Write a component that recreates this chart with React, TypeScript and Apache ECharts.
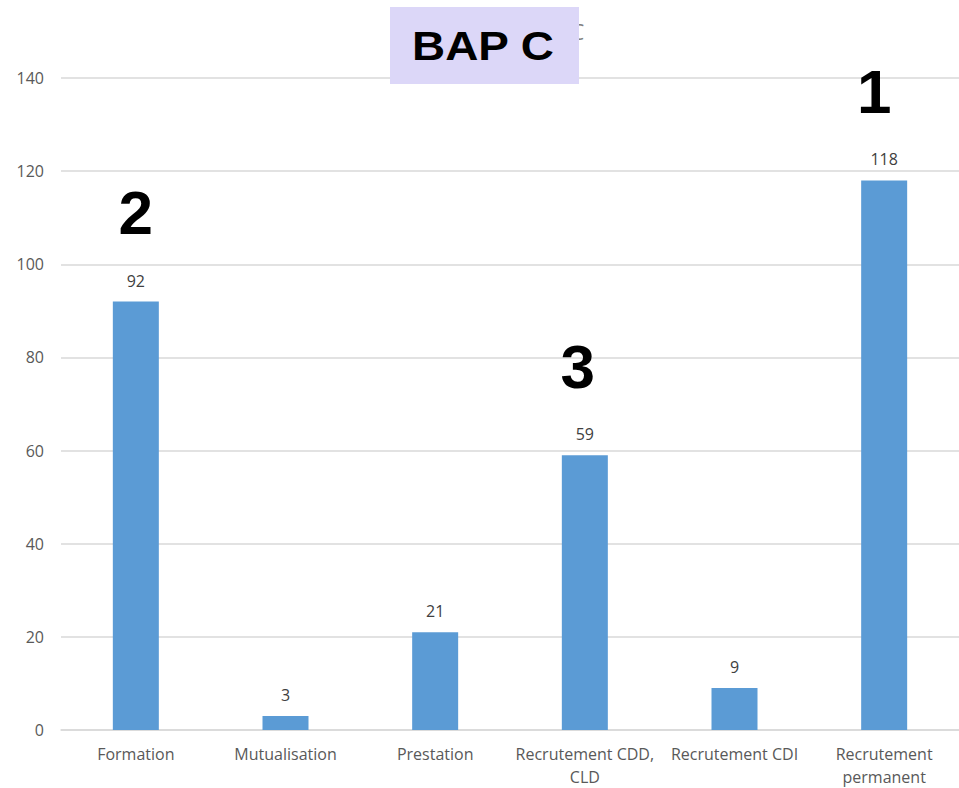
import React, { useEffect, useRef } from "react";
import * as echarts from "echarts";

// Category names, counts and podium ranks for the BAP C chart
const categories = [
  "Formation",
  "Mutualisation",
  "Prestation",
  "Recrutement CDD,\nCLD",
  "Recrutement CDI",
  "Recrutement\npermanent",
];
const counts = [92, 3, 21, 59, 9, 118];
const ranks: (number | null)[] = [2, null, null, 3, null, 1];
const yTicks = { min: 0, max: 140, interval: 20 };
const titleText = "BAP C";

const FONT = "'Open Sans', sans-serif";
const RANK_FONT = "'Liberation Sans', Arial, sans-serif";

// Big rank digits, nudged slightly left of the bar centre for 1 and 3
const rankStyle = (padRight: number) => ({
  color: "#000000",
  fontFamily: RANK_FONT,
  fontWeight: "bold",
  fontSize: 62,
  lineHeight: 116,
  padding: [0, padRight, 0, 0],
});

export default function App() {
  const ref = useRef<HTMLDivElement>(null);

  useEffect(() => {
    if (!ref.current) return;
    const chart = echarts.init(ref.current, null, { renderer: "svg" });
    chart.setOption({
      animation: false,
      backgroundColor: "#ffffff",
      grid: { left: 61, right: 0, top: 78, bottom: 57, containLabel: false },
      xAxis: {
        type: "category",
        data: categories,
        axisLine: { show: true, lineStyle: { color: "#d9d9d9", width: 1.5 } },
        axisTick: { show: false },
        axisLabel: {
          color: "#595959",
          fontFamily: FONT,
          fontSize: 16,
          lineHeight: 23,
          margin: 12,
          interval: 0,
        },
      },
      yAxis: {
        type: "value",
        min: yTicks.min,
        max: yTicks.max,
        interval: yTicks.interval,
        axisLine: { show: false },
        axisTick: { show: false },
        splitLine: { lineStyle: { color: "#d9d9d9", width: 1.5 } },
        axisLabel: {
          color: "#595959",
          fontFamily: FONT,
          fontSize: 16,
          margin: 17,
        },
      },
      series: [
        {
          type: "bar",
          data: counts,
          barWidth: 46,
          itemStyle: { color: "#5b9bd5" },
          label: {
            show: true,
            position: "top",
            distance: 11,
            formatter: (p: any) => {
              const r = ranks[p.dataIndex];
              return r != null
                ? `{rank${r}|${r}}\n{val|${p.value}}`
                : `{val|${p.value}}`;
            },
            rich: {
              val: {
                color: "#404040",
                fontFamily: FONT,
                fontSize: 16,
                lineHeight: 20,
              },
              rank1: rankStyle(20),
              rank2: rankStyle(0),
              rank3: rankStyle(14),
            },
          },
        },
      ],
      graphic: [
        {
          type: "text",
          x: 571,
          y: 32,
          z: 1,
          style: {
            text: "C",
            fill: "#7f7f7f",
            font: "21px 'Open Sans', sans-serif",
            textAlign: "left",
            textVerticalAlign: "middle",
          },
        },
        {
          type: "rect",
          z: 2,
          shape: { x: 390, y: 7, width: 189, height: 77 },
          style: { fill: "#dcd7f8" },
        },
        {
          type: "text",
          z: 3,
          x: 483,
          y: 46,
          scaleX: 1.12,
          style: {
            text: titleText,
            fill: "#000000",
            font: "bold 41px 'Liberation Sans', Arial, sans-serif",
            textAlign: "center",
            textVerticalAlign: "middle",
          },
        },
      ],
    });
    return () => chart.dispose();
  }, []);

  return (
    <div
      ref={ref}
      style={{ position: "fixed", left: 0, top: 0, width: 959, height: 788 }}
    />
  );
}
